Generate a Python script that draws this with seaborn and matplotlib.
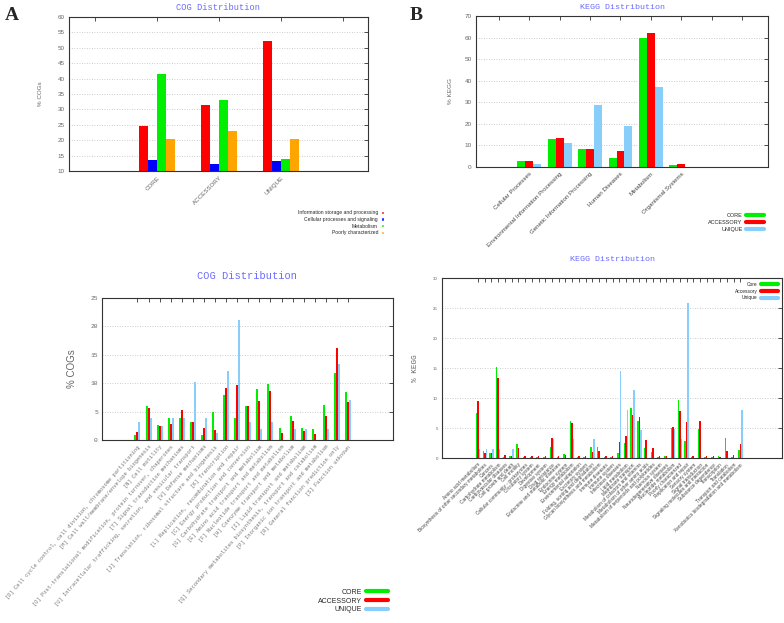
import numpy as np
import pandas as pd
import matplotlib
matplotlib.use("Agg")
import matplotlib.pyplot as plt
import seaborn as sns
from matplotlib.patches import Patch
from matplotlib.lines import Line2D

# ---- A: COG functional classes per genome fraction ----
COG_GROUPS = ["CORE", "ACCESSORY", "UNIQUE"]
COG_CLASSES = ["Information storage and processing", "Cellular processes and signaling",
               "Metabolism", "Poorly characterized"]
cog_info = [24.7, 31.3, 52.2]
cog_cell = [13.5, 12.4, 13.4]
cog_metab = [41.4, 33.2, 14.0]
cog_poor = [20.3, 22.9, 20.3]

# ---- B: KEGG level 1 ----
KEGG_L1 = ["Cellular Processes", "Environmental Information Processing",
           "Genetic Information Processing", "Human Diseases", "Metabolism",
           "Organismal Systems"]
l1_core = [2.9, 13.1, 8.4, 4.1, 59.9, 1.1]
l1_acc = [2.6, 13.4, 8.2, 7.2, 62.0, 1.4]
l1_uniq = [1.6, 11.2, 28.8, 19.2, 37.1, 0.0]

# ---- C: COG categories ----
COG_CATS = [
    "[D] Cell cycle control, cell division, chromosome partitioning",
    "[M] Cell wall/membrane/envelope biogenesis",
    "[N] Cell motility",
    "[O] Post-translational modification, protein turnover, chaperones",
    "[T] Signal transduction mechanisms",
    "[U] Intracellular trafficking, secretion, and vesicular transport",
    "[V] Defense mechanisms",
    "[J] Translation, ribosomal structure and biogenesis",
    "[K] Transcription",
    "[L] Replication, recombination and repair",
    "[C] Energy production and conversion",
    "[G] Carbohydrate transport and metabolism",
    "[E] Amino acid transport and metabolism",
    "[F] Nucleotide transport and metabolism",
    "[H] Coenzyme transport and metabolism",
    "[I] Lipid transport and metabolism",
    "[Q] Secondary metabolites biosynthesis, transport and catabolism",
    "[P] Inorganic ion transport and metabolism",
    "[R] General function prediction only",
    "[S] Function unknown",
]
cog_core = [0.8, 5.9, 2.7, 3.9, 3.9, 3.2, 0.9, 5.0, 7.9, 3.8,
            5.9, 9.0, 9.8, 2.2, 4.2, 2.1, 1.9, 6.2, 11.8, 8.5]
cog_acc = [1.4, 5.6, 2.5, 2.8, 5.3, 3.1, 2.2, 1.8, 9.2, 9.6,
           6.0, 6.9, 8.6, 1.2, 3.3, 1.6, 1.1, 4.2, 16.2, 6.7]
cog_uniq = [3.2, 3.8, 2.5, 3.8, 3.8, 10.2, 3.8, 1.3, 12.1, 21.1,
            3.2, 1.9, 3.2, 0.0, 1.9, 1.9, 0.0, 1.9, 13.4, 7.0]

# ---- D: KEGG level 2 ----
KEGG_L2 = [
    "Amino acid metabolism", "Biosynthesis of other secondary metabolites", "Cancers",
    "Carbohydrate metabolism", "Cardiovascular diseases", "Cell growth and death",
    "Cell motility", "Cellular community - prokaryotes", "Circulatory system",
    "Development", "Digestive system", "Drug resistance",
    "Endocrine and metabolic diseases", "Endocrine system", "Energy metabolism",
    "Environmental adaptation", "Excretory system", "Folding, sorting and degradation",
    "Glycan biosynthesis and metabolism", "Immune diseases", "Immune system",
    "Infectious diseases", "Lipid metabolism", "Membrane transport",
    "Metabolism of cofactors and vitamins", "Metabolism of other amino acids",
    "Metabolism of terpenoids and polyketides", "Nervous system",
    "Neurodegenerative diseases", "Nucleotide metabolism", "Poorly characterized",
    "Replication and repair", "Sensory system", "Signal transduction",
    "Signaling molecules and interaction", "Substance dependence", "Transcription",
    "Translation", "Transport and catabolism", "Xenobiotics biodegradation and metabolism",
]
l2_core = [7.5, 1.1, 0.8, 15.2, 0.2, 0.4, 2.3, 0.2, 0.1, 0.2,
           0.1, 1.8, 0.2, 0.7, 6.1, 0.2, 0.1, 1.8, 1.8, 0.2,
           0.2, 0.9, 2.5, 8.4, 6.2, 1.7, 1.0, 0.1, 0.3, 5.0,
           9.6, 2.9, 0.2, 4.8, 0.2, 0.2, 0.3, 3.3, 0.1, 1.3]
l2_acc = [9.5, 0.8, 0.9, 13.4, 0.5, 0.4, 1.7, 0.3, 0.4, 0.3,
          0.4, 3.4, 0.3, 0.5, 5.8, 0.4, 0.4, 1.0, 1.2, 0.3,
          0.3, 2.7, 3.6, 7.2, 6.8, 3.0, 1.7, 0.4, 0.3, 5.1,
          7.9, 6.0, 0.3, 6.1, 0.3, 0.3, 0.2, 1.2, 0.5, 2.4]
l2_uniq = [1.5, 1.5, 1.5, 1.5, 0.0, 1.5, 0.0, 0.0, 0.0, 0.0,
           0.0, 3.2, 0.0, 0.0, 3.2, 0.0, 0.0, 3.2, 0.0, 0.0,
           0.0, 14.5, 8.0, 11.3, 4.7, 0.0, 0.0, 0.0, 0.0, 4.8,
           3.1, 25.8, 0.0, 0.0, 0.0, 0.0, 0.0, 0.0, 0.0, 8.0]

GREEN, RED, SKY = "#00ee00", "#ff0000", "#87cefa"
TITLE_COL = "#6b6bff"
MONO = ["Liberation Mono", "DejaVu Sans Mono"]
SANS = ["Liberation Sans", "DejaVu Sans"]

sns.set_theme(style="white")
plt.rcParams["font.family"] = SANS


def long_df(cats, series):
    rows = []
    for name, vals in series.items():
        for c, v in zip(cats, vals):
            rows.append({"cat": c, "series": name, "value": v})
    return pd.DataFrame(rows)


def style_axes(ax, ylim, ystep, tick_fs, tick_family=SANS):
    ax.set_ylim(*ylim)
    ax.set_yticks(np.arange(ylim[0], ylim[1] + 0.01, ystep))
    ax.yaxis.grid(True, linestyle=(0, (1, 2)), color="#bbbbbb", lw=0.6)
    ax.set_axisbelow(True)
    for s in ax.spines.values():
        s.set_color("#333333")
        s.set_linewidth(0.8)
    ax.tick_params(direction="in", length=3, width=0.6, color="#333333",
                   top=True, right=True, pad=3)
    ax.tick_params(axis="y", labelsize=tick_fs, labelcolor="#666666")
    for t in ax.get_yticklabels():
        t.set_family(tick_family)
    ax.set_xlabel("")


fig = plt.figure(figsize=(7.84, 6.23), dpi=100)
bar_kw = dict(gap=0, saturation=1, errorbar=None, legend=False,
              linewidth=0, antialiased=False)

# ---------- A ----------
axA = fig.add_axes([69 / 784, 1 - 171 / 623, 299 / 784, 154 / 623])
dfA = long_df(COG_GROUPS, dict(zip(COG_CLASSES, [cog_info, cog_cell, cog_metab, cog_poor])))
colA = ["#ff0000", "#0000ff", "#00ee00", "#ffa500"]
sns.barplot(data=dfA, x="cat", y="value", hue="series", order=COG_GROUPS,
            hue_order=COG_CLASSES, palette=colA, width=0.57, ax=axA, **bar_kw)
style_axes(axA, (10, 60), 5, 4.5)
axA.set_xlim(-1.42, 3.4)
axA.set_xticks([-1, 0, 1, 2, 3])
axA.set_xticklabels(["", "CORE", "ACCESSORY", "UNIQUE", ""], rotation=45, ha="right",
                    rotation_mode="anchor", fontsize=4.5, color="#666666")
axA.set_ylabel("% COGs", fontsize=4.5, color="#666666")
axA.yaxis.set_label_coords(-0.087, 0.5)
axA.set_title("COG Distribution", fontsize=6.3, color=TITLE_COL, family=MONO, pad=5)
hA = [Patch(facecolor=c, label=l) for c, l in zip(colA, COG_CLASSES)]
fig.legend(handles=hA, loc="upper right", bbox_to_anchor=(386 / 784, 1 - 208 / 623),
           markerfirst=False, frameon=False, fontsize=3.6, handlelength=0.6,
           handleheight=0.6, handletextpad=0.6, labelspacing=0.35, borderaxespad=0)
fig.text(12 / 784, 1 - 16 / 623, "A", fontsize=14, fontweight="bold",
         family=["Liberation Serif", "DejaVu Serif"], ha="center", va="center")

# ---------- B ----------
axB = fig.add_axes([476 / 784, 1 - 167 / 623, 292 / 784, 151 / 623])
dfB = long_df(KEGG_L1, {"CORE": l1_core, "ACCESSORY": l1_acc, "UNIQUE": l1_uniq})
sns.barplot(data=dfB, x="cat", y="value", hue="series", order=KEGG_L1,
            hue_order=["CORE", "ACCESSORY", "UNIQUE"], palette=[GREEN, RED, SKY],
            width=0.78, ax=axB, **bar_kw)
style_axes(axB, (0, 70), 10, 4.6)
axB.set_xlim(-1.75, 7.85)
axB.set_xticks(range(-1, 8))
axB.set_xticklabels([""] + KEGG_L1 + ["", ""], rotation=45, ha="right",
                    rotation_mode="anchor", fontsize=4.4, color="#444444")
axB.set_ylabel("% KEGG", fontsize=4.6, color="#666666")
axB.yaxis.set_label_coords(-0.079, 0.5)
axB.set_title("KEGG Distribution", fontsize=6, color=TITLE_COL, family=MONO, pad=5)
hB = [Line2D([], [], color=c, lw=3, label=l)
      for c, l in zip([GREEN, RED, SKY], ["CORE", "ACCESSORY", "UNIQUE"])]
fig.legend(handles=hB, loc="upper right", bbox_to_anchor=(766 / 784, 1 - 211 / 623),
           markerfirst=False, frameon=False, fontsize=4, handlelength=3.2,
           handletextpad=0.6, labelspacing=0.3, borderaxespad=0)
fig.text(416 / 784, 1 - 16 / 623, "B", fontsize=14, fontweight="bold",
         family=["Liberation Serif", "DejaVu Serif"], ha="center", va="center")

# ---------- C ----------
axC = fig.add_axes([102 / 784, 1 - 440 / 623, 291 / 784, 142 / 623])
dfC = long_df(COG_CATS, {"CORE": cog_core, "ACCESSORY": cog_acc, "UNIQUE": cog_uniq})
sns.barplot(data=dfC, x="cat", y="value", hue="series", order=COG_CATS,
            hue_order=["CORE", "ACCESSORY", "UNIQUE"], palette=[GREEN, RED, SKY],
            width=0.54, ax=axC, **bar_kw)
style_axes(axC, (0, 25), 5, 4.5, tick_family=MONO)
axC.set_xlim(-3.2, 23.06)
axC.set_xticks(range(len(COG_CATS)))
axC.set_xticklabels(COG_CATS, rotation=49, ha="right", rotation_mode="anchor",
                    fontsize=3.9, color="#777777", family=MONO)
axC.set_ylabel("% COGs", fontsize=7, color="#666666")
axC.yaxis.set_label_coords(-0.086, 0.5)
axC.set_title("COG Distribution", fontsize=7.5, color=TITLE_COL, family=MONO, pad=14)
fig.legend(handles=hB, loc="upper right", bbox_to_anchor=(391 / 784, 1 - 586 / 623),
           markerfirst=False, frameon=False, fontsize=5, handlelength=3.2,
           handletextpad=0.6, labelspacing=0.25, borderaxespad=0)

# ---------- D ----------
axD = fig.add_axes([442 / 784, 1 - 458 / 623, 340 / 784, 180 / 623])
dfD = long_df(KEGG_L2, {"Core": l2_core, "Accessory": l2_acc, "Unique": l2_uniq})
sns.barplot(data=dfD, x="cat", y="value", hue="series", order=KEGG_L2,
            hue_order=["Core", "Accessory", "Unique"], palette=[GREEN, RED, SKY],
            width=0.66, ax=axD, **bar_kw)
style_axes(axD, (0, 30), 5, 3.2)
axD.set_xlim(-5.36, 45.2)
axD.set_xticks(range(len(KEGG_L2)))
axD.set_xticklabels(KEGG_L2, rotation=45, ha="right", rotation_mode="anchor",
                    fontsize=3.4, color="#444444")
axD.set_ylabel("% KEGG", fontsize=5.5, color="#666666", family=MONO)
axD.yaxis.set_label_coords(-0.068, 0.5)
axD.set_title("KEGG Distribution", fontsize=6, color=TITLE_COL, family=MONO, pad=12)
hD = [Line2D([], [], color=c, lw=3, label=l)
      for c, l in zip([GREEN, RED, SKY], ["Core", "Accessory", "Unique"])]
axD.legend(handles=hD, loc="upper right", markerfirst=False, frameon=False,
           fontsize=3.5, handlelength=3.6, handletextpad=0.6, labelspacing=0.35,
           borderaxespad=0.4)

fig.savefig("out.png", dpi=100)
